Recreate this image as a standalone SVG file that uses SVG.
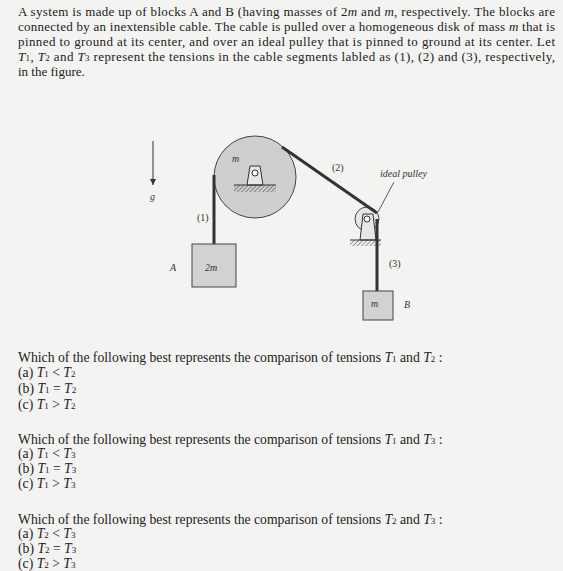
<svg xmlns="http://www.w3.org/2000/svg" width="563" height="571" viewBox="0 0 563 571">
<defs>
<pattern id="hatch" width="3" height="3" patternUnits="userSpaceOnUse" patternTransform="rotate(45)"><line x1="0" y1="0" x2="0" y2="3" stroke="#333" stroke-width="1"/></pattern>
<marker id="arr" markerWidth="8" markerHeight="8" refX="6" refY="3" orient="auto" markerUnits="userSpaceOnUse"><path d="M0,0 L6,3 L0,6 z" fill="#333"/></marker>
</defs>
<style>
.t{font-family:"Liberation Serif","Times New Roman",serif;font-size:13px;fill:#222}
.q{font-size:13.7px}
.l{font-family:"Liberation Serif","Times New Roman",serif;font-size:10px;fill:#333}
.i{font-style:italic}
.s{font-size:9px}
.rope{stroke:#333;stroke-width:3;fill:none}
.blk{fill:#d2d2d2;stroke:#444;stroke-width:1}
</style>
<rect width="563" height="571" fill="#f3f3f1"/>
<g id="intro" class="t">
<text x="18" y="16" textLength="537" lengthAdjust="spacing">A system is made up of blocks A and B (having masses of 2<tspan class="i">m</tspan> and <tspan class="i">m</tspan>, respectively. The blocks are</text>
<text x="18" y="31" textLength="537" lengthAdjust="spacing">connected by an inextensible cable. The cable is pulled over a homogeneous disk of mass <tspan class="i">m</tspan> that is</text>
<text x="18" y="46" textLength="537" lengthAdjust="spacing">pinned to ground at its center, and over an ideal pulley that is pinned to ground at its center. Let</text>
<text x="18" y="61" textLength="537" lengthAdjust="spacing"><tspan class="i">T</tspan><tspan class="s">1</tspan>, <tspan class="i">T</tspan><tspan class="s">2</tspan> and <tspan class="i">T</tspan><tspan class="s">3</tspan> represent the tensions in the cable segments labled as (1), (2) and (3), respectively,</text>
<text x="18" y="76">in the figure.</text>
</g>
<g id="gravity">
<line x1="153" y1="141" x2="153" y2="185" stroke="#333" stroke-width="1" marker-end="url(#arr)"/>
<text class="l i" x="150" y="200">g</text>
</g>
<g id="disk">
<circle cx="255" cy="177" r="41" fill="#cfcfcf" stroke="#444" stroke-width="1"/>
<path d="M247,185 L250,166 L260,166 L263,185 z" fill="#e6e6e6" stroke="#333" stroke-width="1"/>
<circle cx="255" cy="173" r="3" fill="#fff" stroke="#333" stroke-width="1"/>
<rect x="234" y="185" width="42" height="7" fill="url(#hatch)"/>
<line x1="234" y1="185" x2="276" y2="185" stroke="#333"/>
<text class="l i" x="232" y="162">m</text>
</g>
<g id="pulley">
<circle cx="367" cy="219" r="12" fill="#e6e6e6" stroke="#444" stroke-width="1"/>
<path d="M360,240 L363,214 L373,214 L376,240 z" fill="#e6e6e6" stroke="#333" stroke-width="1"/>
<circle cx="367" cy="219" r="3" fill="#fff" stroke="#333" stroke-width="1"/>
<rect x="350" y="240" width="31" height="6" fill="url(#hatch)"/>
<line x1="350" y1="240" x2="381" y2="240" stroke="#333"/>
<text class="l i" x="380" y="177">ideal pulley</text>
<line x1="394" y1="182" x2="378" y2="212" stroke="#333" stroke-width="0.8"/>
</g>
<g id="connectors">
<line class="rope" x1="214" y1="175" x2="214" y2="244"/>
<line class="rope" x1="282" y1="147" x2="377" y2="213"/>
<line class="rope" x1="377" y1="219" x2="377" y2="291"/>
<text class="l" x="197" y="221">(1)</text>
<text class="l" x="332" y="171">(2)</text>
<text class="l" x="389" y="267">(3)</text>
</g>
<g id="blockA">
<rect class="blk" x="192" y="244" width="44" height="43"/>
<text class="l i" x="205" y="271">2m</text>
<text class="l i" x="170" y="271">A</text>
</g>
<g id="blockB">
<rect class="blk" x="363" y="291" width="30" height="29"/>
<text class="l i" x="371" y="307">m</text>
<text class="l i" x="404" y="308">B</text>
</g>
<g id="questions" class="t q">
<text x="18" y="362">Which of the following best represents the comparison of tensions <tspan class="i">T</tspan><tspan class="s">1</tspan> and <tspan class="i">T</tspan><tspan class="s">2</tspan> :</text>
<text x="18" y="377">(a) <tspan class="i">T</tspan><tspan class="s">1</tspan> &lt; <tspan class="i">T</tspan><tspan class="s">2</tspan></text>
<text x="18" y="393">(b) <tspan class="i">T</tspan><tspan class="s">1</tspan> = <tspan class="i">T</tspan><tspan class="s">2</tspan></text>
<text x="18" y="409">(c) <tspan class="i">T</tspan><tspan class="s">1</tspan> &gt; <tspan class="i">T</tspan><tspan class="s">2</tspan></text>
<text x="18" y="444">Which of the following best represents the comparison of tensions <tspan class="i">T</tspan><tspan class="s">1</tspan> and <tspan class="i">T</tspan><tspan class="s">3</tspan> :</text>
<text x="18" y="458">(a) <tspan class="i">T</tspan><tspan class="s">1</tspan> &lt; <tspan class="i">T</tspan><tspan class="s">3</tspan></text>
<text x="18" y="473">(b) <tspan class="i">T</tspan><tspan class="s">1</tspan> = <tspan class="i">T</tspan><tspan class="s">3</tspan></text>
<text x="18" y="488">(c) <tspan class="i">T</tspan><tspan class="s">1</tspan> &gt; <tspan class="i">T</tspan><tspan class="s">3</tspan></text>
<text x="18" y="524">Which of the following best represents the comparison of tensions <tspan class="i">T</tspan><tspan class="s">2</tspan> and <tspan class="i">T</tspan><tspan class="s">3</tspan> :</text>
<text x="18" y="538">(a) <tspan class="i">T</tspan><tspan class="s">2</tspan> &lt; <tspan class="i">T</tspan><tspan class="s">3</tspan></text>
<text x="18" y="553">(b) <tspan class="i">T</tspan><tspan class="s">2</tspan> = <tspan class="i">T</tspan><tspan class="s">3</tspan></text>
<text x="18" y="568">(c) <tspan class="i">T</tspan><tspan class="s">2</tspan> &gt; <tspan class="i">T</tspan><tspan class="s">3</tspan></text>
</g>
</svg>
